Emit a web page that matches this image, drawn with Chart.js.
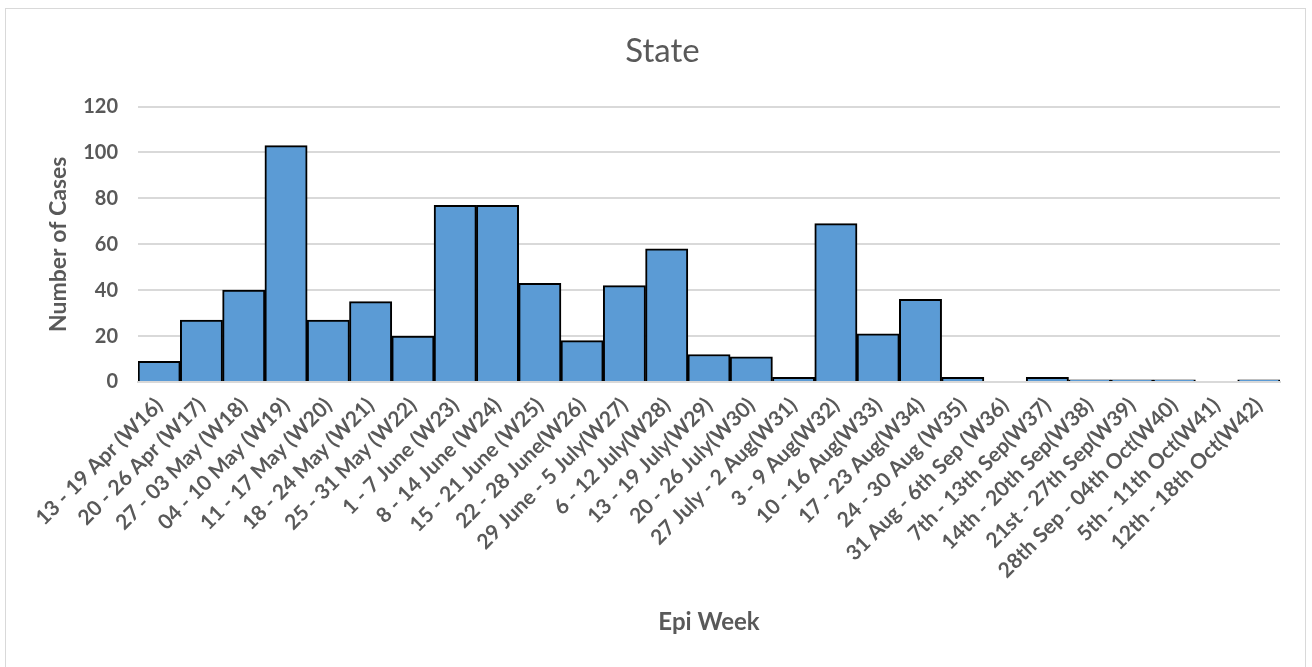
<!DOCTYPE html>
<html>
<head>
<meta charset="utf-8">
<script src="https://cdn.jsdelivr.net/npm/chart.js@4/dist/chart.umd.min.js"></script>
<style>
  body { margin: 0; background: #fff; }
  #wrap { position: relative; width: 1312px; height: 667px; }
</style>
</head>
<body>
<div id="wrap"><canvas id="myChart"></canvas></div>
<script>
// epi weeks on the x axis
var weeks = [
    '13 - 19 Apr (W16)', '20 - 26 Apr (W17)', '27 - 03 May (W18)', '04 - 10 May (W19)',
    '11 - 17 May (W20)', '18 - 24 May (W21)', '25 - 31 May (W22)', '1 - 7 June (W23)',
    '8 - 14 June (W24)', '15 - 21 June (W25)', '22 - 28 June(W26)', '29 June - 5 July(W27)',
    '6 - 12 July(W28)', '13 - 19 July(W29)', '20 - 26 July(W30)', '27 July - 2 Aug(W31)',
    '3 - 9 Aug(W32)', '10 - 16 Aug(W33)', '17 - 23 Aug(W34)', '24 - 30 Aug (W35)',
    '31 Aug - 6th Sep (W36)', '7th - 13th Sep(W37)', '14th - 20th Sep(W38)', '21st - 27th Sep(W39)',
    '28th Sep - 04th Oct(W40)', '5th - 11th Oct(W41)', '12th - 18th Oct(W42)'
];
// cases per week
var cases = [9, 27, 40, 103, 27, 35, 20, 77, 77, 43, 18, 42, 58, 12, 11, 2, 69, 21, 36, 2, 0, 2, 1, 1, 1, 0, 1];
var yTicks = [0, 20, 40, 60, 80, 100, 120];

var grey = '#595959';
var font = 'Lato, "Open Sans", sans-serif';

// light frame round the whole chart
var frame = {
    id: 'frame',
    beforeDraw: function (chart) {
        var c = chart.ctx;
        c.save();
        c.fillStyle = '#fff';
        c.fillRect(0, 0, chart.width, chart.height);
        c.strokeStyle = '#d9d9d9';
        c.lineWidth = 1;
        c.strokeRect(5.5, 8.5, 1300, 670);
        c.restore();
    }
};

let ctx = document.getElementById('myChart').getContext('2d');
let stateChart = new Chart(ctx, {
    type: 'bar',
    data: {
        labels: weeks,
        datasets: [{
            label: 'State',
            data: cases,
            backgroundColor: '#5B9BD5',
            borderColor: '#000',
            borderWidth: 2,
            barPercentage: 1,
            categoryPercentage: 1
        }]
    },
    options: {
        responsive: true,
        maintainAspectRatio: false,
        animation: false,
        layout: { padding: { left: 45, right: 32, top: 30, bottom: 20 } },
        plugins: {
            legend: { display: false },
            tooltip: { enabled: false },
            title: {
                display: true,
                text: 'State',
                color: grey,
                font: { family: font, size: 33, weight: 'normal' },
                padding: { top: 2, bottom: 35 }
            }
        },
        scales: {
            x: {
                grid: { display: false },
                border: { color: '#d9d9d9', width: 2 },
                ticks: {
                    color: grey,
                    font: { family: font, size: 21, weight: 'bold' },
                    maxRotation: 45,
                    minRotation: 45,
                    autoSkip: false
                },
                title: {
                    display: true,
                    text: 'Epi Week',
                    color: grey,
                    font: { family: font, size: 24, weight: 'bold' },
                    padding: { top: 0, bottom: 10 }
                },
                afterFit: function (scale) { scale.height = 265; }
            },
            y: {
                min: 0,
                max: 120,
                afterBuildTicks: function (scale) {
                    scale.ticks = yTicks.map(function (v) { return { value: v }; });
                },
                grid: { color: '#d9d9d9', lineWidth: 2, drawTicks: false },
                border: { display: false },
                ticks: {
                    color: grey,
                    font: { family: font, size: 20, weight: 'bold' },
                    padding: 20
                },
                title: {
                    display: true,
                    text: 'Number of Cases',
                    color: grey,
                    font: { family: font, size: 23, weight: 'bold' },
                    padding: { top: 0, bottom: 2 }
                },
                afterFit: function (scale) { scale.width = 93; }
            }
        }
    },
    plugins: [frame]
});
</script>
</body>
</html>
